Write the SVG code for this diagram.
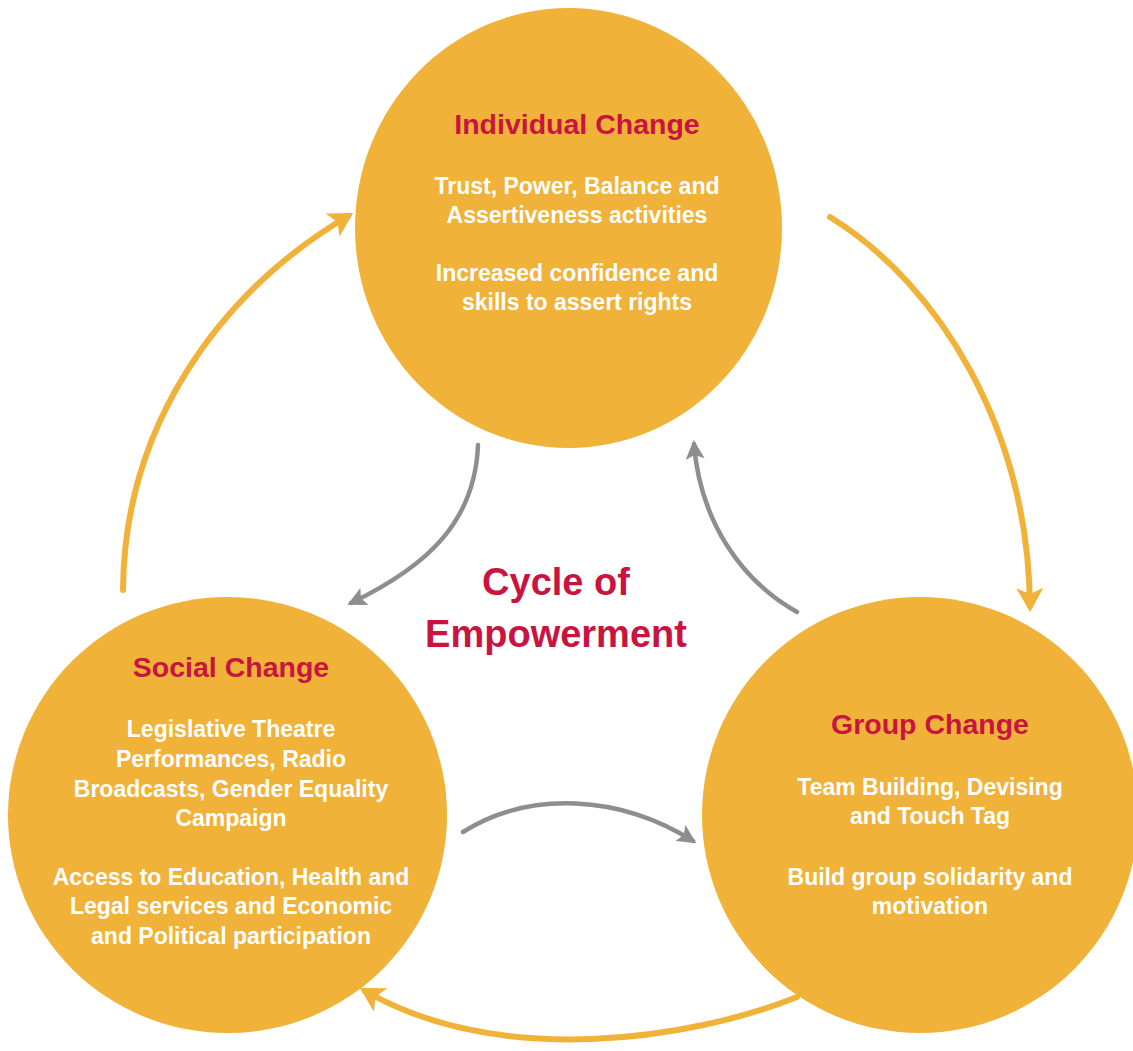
<svg xmlns="http://www.w3.org/2000/svg" width="1133" height="1051" viewBox="0 0 1133 1051">
<style>
.node{fill:#F0B238}
.title{font-family:"Liberation Sans",Arial,sans-serif;font-weight:bold;font-size:28.5px;fill:#C8143F;text-anchor:middle}
.body{font-family:"Liberation Sans",Arial,sans-serif;font-weight:bold;font-size:23px;fill:#FFFFFF;text-anchor:middle}
.center{font-family:"Liberation Sans",Arial,sans-serif;font-weight:bold;font-size:38px;fill:#C8143F;text-anchor:middle}
.orange{fill:none;stroke:#F0B238;stroke-width:6;stroke-linecap:round}
.gray{fill:none;stroke:#8E8E8E;stroke-width:4.5;stroke-linecap:round}
</style>
<defs>
<marker id="headO" markerUnits="userSpaceOnUse" viewBox="0 0 24 27" markerWidth="24" markerHeight="27" refX="18" refY="13.5" orient="auto">
<path d="M0,0 L24,13.5 L0,27 L6,13.5 z" fill="#F0B238"/>
</marker>
<marker id="headG" markerUnits="userSpaceOnUse" viewBox="0 0 19 19" markerWidth="19" markerHeight="19" refX="15" refY="9.5" orient="auto">
<path d="M0,0 L19,9.5 L0,19 L4,9.5 z" fill="#8E8E8E"/>
</marker>
</defs>
<rect width="1133" height="1051" fill="#FFFFFF"/>
<g id="connectors">
<path class="orange" d="M123,590 C124,430 215,295 348,216" marker-end="url(#headO)"/>
<path class="orange" d="M830,217 C940,285 1028,430 1030,606" marker-end="url(#headO)"/>
<path class="orange" d="M797,997 C690,1040 500,1068 365,991" marker-end="url(#headO)"/>
<path class="gray" d="M478,445 C475,520 430,565 351,603" marker-end="url(#headG)"/>
<path class="gray" d="M797,612 C740,580 700,520 694,444" marker-end="url(#headG)"/>
<path class="gray" d="M463,832 C530,790 620,795 693,841" marker-end="url(#headG)"/>
</g>
<g id="individual">
<ellipse class="node" cx="568.5" cy="228" rx="213.5" ry="220"/>
<text class="title" x="577" y="134">Individual Change</text>
<text class="body" x="577" y="194">Trust, Power, Balance and</text>
<text class="body" x="577" y="223">Assertiveness activities</text>
<text class="body" x="577" y="281">Increased confidence and</text>
<text class="body" x="577" y="310">skills to assert rights</text>
</g>
<g id="social">
<ellipse class="node" cx="227.5" cy="815" rx="219.5" ry="218"/>
<text class="title" x="231" y="677">Social Change</text>
<text class="body" x="231" y="737">Legislative Theatre</text>
<text class="body" x="231" y="767">Performances, Radio</text>
<text class="body" x="231" y="797">Broadcasts, Gender Equality</text>
<text class="body" x="231" y="826">Campaign</text>
<text class="body" x="231" y="885">Access to Education, Health and</text>
<text class="body" x="231" y="914">Legal services and Economic</text>
<text class="body" x="231" y="944">and Political participation</text>
</g>
<g id="group">
<ellipse class="node" cx="920" cy="815" rx="218" ry="218"/>
<text class="title" x="930" y="734">Group Change</text>
<text class="body" x="930" y="795">Team Building, Devising</text>
<text class="body" x="930" y="824">and Touch Tag</text>
<text class="body" x="930" y="885">Build group solidarity and</text>
<text class="body" x="930" y="914">motivation</text>
</g>
<g id="center-label">
<text class="center" x="556" y="595">Cycle of</text>
<text class="center" x="556" y="647">Empowerment</text>
</g>
</svg>
